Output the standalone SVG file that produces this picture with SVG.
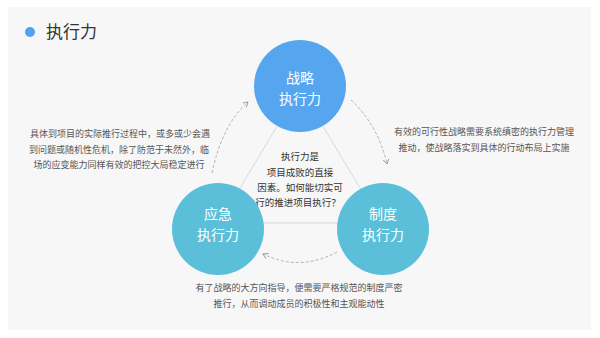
<svg xmlns="http://www.w3.org/2000/svg" width="600" height="338" viewBox="0 0 600 338">
<defs>
<style>
text{font-family:"Noto Sans CJK SC","Noto Sans",sans-serif}
.d{font-size:9px;fill:#555;text-anchor:middle}
.c{font-size:9.5px;fill:#333;text-anchor:middle}
.w{font-size:14px;fill:#fff;text-anchor:middle}
.tri{stroke:#cfcfcf;stroke-width:0.8;fill:none}
.arc{stroke:#aaa;stroke-width:0.9;fill:none;stroke-dasharray:3 2;marker-end:url(#ah)}
</style>
<marker id="ah" markerWidth="8" markerHeight="8" refX="5" refY="3" orient="auto" markerUnits="userSpaceOnUse">
<path d="M0,0 L5,3 L0,6" fill="none" stroke="#999" stroke-width="0.9"/>
</marker>
</defs>
<rect width="600" height="338" fill="#fff"/>
<rect x="8" y="7" width="583" height="323" fill="#f7f7f7"/>
<g id="title">
<circle cx="30" cy="32" r="5" fill="#4fa3f2"/>
<text x="46" y="38" style="font-size:17px;fill:#333">执行力</text>
</g>
<g id="connectors">
<path class="tri" d="M300,88 L219,223 L381,223 Z"/>
<path class="arc" d="M212,173 Q222,125 248,102"/>
<path class="arc" d="M351,100 Q378,125 387,164"/>
<path class="arc" d="M337,252 Q300,272 263,254"/>
</g>
<g id="center-text">
<text class="c" x="300" y="160">执行力是</text>
<text class="c" x="300" y="175.5">项目成败的直接</text>
<text class="c" x="300" y="191">因素。如何能切实可</text>
<text class="c" x="298" y="206">行的推进项目执行？</text>
</g>
<g id="node-strategy">
<circle cx="300" cy="86" r="46" fill="#55a6ef"/>
<text class="w" x="300" y="82.5">战略</text>
<text class="w" x="300" y="103.5">执行力</text>
</g>
<g id="node-emergency">
<circle cx="218" cy="229" r="46" fill="#5bbfd9"/>
<text class="w" x="218" y="218.5">应急</text>
<text class="w" x="218" y="239.5">执行力</text>
</g>
<g id="node-system">
<circle cx="383" cy="229" r="46" fill="#5bbfd9"/>
<text class="w" x="383" y="218.5">制度</text>
<text class="w" x="383" y="239.5">执行力</text>
</g>
<g id="text-left">
<text class="d" x="120" y="137">具体到项目的实际推行过程中，或多或少会遇</text>
<text class="d" x="119" y="152.5">到问题或随机性危机，除了防范于未然外，临</text>
<text class="d" x="119" y="168">场的应变能力同样有效的把控大局稳定进行</text>
</g>
<g id="text-right">
<text class="d" x="484" y="135">有效的可行性战略需要系统缜密的执行力管理</text>
<text class="d" x="484" y="150.5">推动，使战略落实到具体的行动布局上实施</text>
</g>
<g id="text-bottom">
<text class="d" x="299" y="291">有了战略的大方向指导，便需要严格规范的制度严密</text>
<text class="d" x="299" y="307">推行，从而调动成员的积极性和主观能动性</text>
</g>
</svg>
